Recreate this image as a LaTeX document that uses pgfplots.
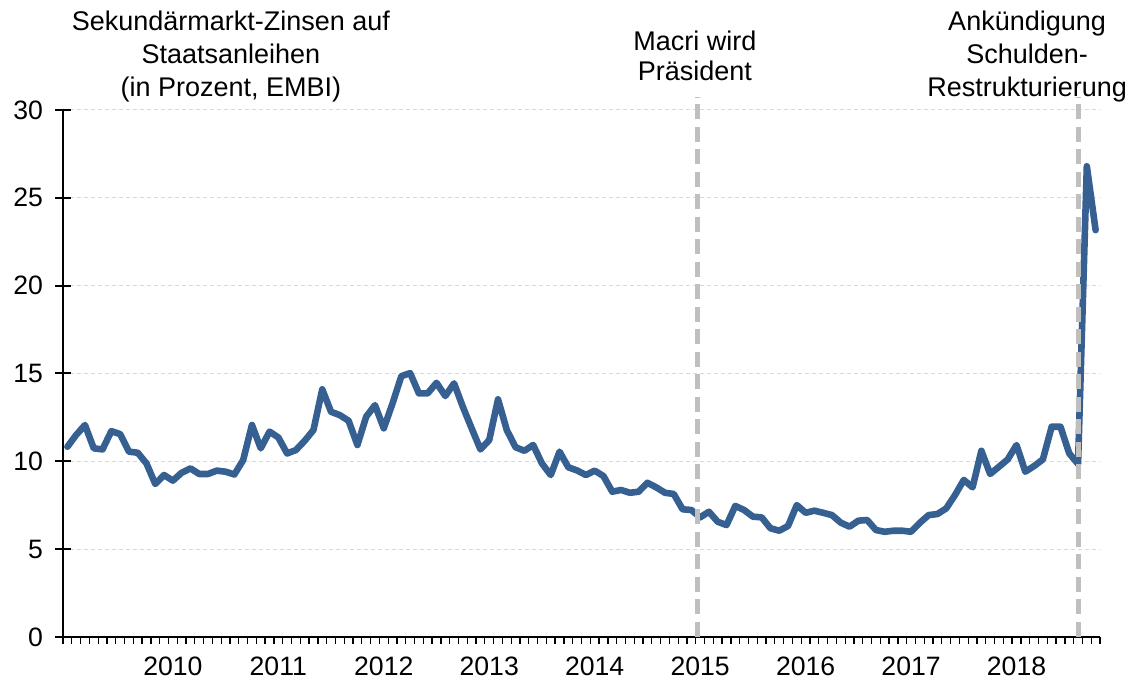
\documentclass[border=0pt]{standalone}
\usepackage{pgfplots}
\pgfplotsset{compat=1.18}
\usepackage{fontspec}
\setmainfont{Liberation Sans}
\definecolor{lineblue}{RGB}{54,96,145}
\definecolor{vgray}{RGB}{191,191,191}
\definecolor{gridgray}{RGB}{217,217,217}
\pgfplotstableread{
k v
0 10.83
1 11.5
2 12.07
3 10.74
4 10.68
5 11.72
6 11.55
7 10.55
8 10.49
9 9.88
10 8.71
11 9.22
12 8.9
13 9.35
14 9.6
15 9.28
16 9.28
17 9.47
18 9.41
19 9.25
20 10.07
21 12.07
22 10.74
23 11.69
24 11.36
25 10.45
26 10.64
27 11.17
28 11.78
29 14.1
30 12.82
31 12.63
32 12.31
33 10.93
34 12.54
35 13.2
36 11.88
37 13.3
38 14.85
39 15.02
40 13.87
41 13.87
42 14.47
43 13.72
44 14.44
45 13.1
46 11.88
47 10.68
48 11.21
49 13.53
50 11.78
51 10.8
52 10.6
53 10.93
54 9.88
55 9.22
56 10.55
57 9.66
58 9.48
59 9.22
60 9.47
61 9.16
62 8.27
63 8.37
64 8.21
65 8.27
66 8.78
67 8.52
68 8.21
69 8.14
70 7.27
71 7.23
72 6.81
73 7.13
74 6.56
75 6.37
76 7.46
77 7.23
78 6.85
79 6.81
80 6.19
81 6.05
82 6.32
83 7.51
84 7.07
85 7.19
86 7.07
87 6.94
88 6.51
89 6.28
90 6.62
91 6.66
92 6.09
93 5.99
94 6.05
95 6.05
96 5.99
97 6.5
98 6.94
99 7.0
100 7.32
101 8.08
102 8.94
103 8.52
104 10.6
105 9.28
106 9.69
107 10.11
108 10.93
109 9.41
110 9.73
111 10.11
112 11.97
113 11.97
114 10.45
115 9.85
116 26.8
117 23.16
}\datatable
\begin{document}
\begin{tikzpicture}
\useasboundingbox (-31.5pt,-21.5pt) rectangle (534pt,318.5pt);
\begin{axis}[
  at={(0,0)}, anchor=south west,
  scale only axis,
  width=518.5pt, height=263.5pt,
  xmin=-0.5, xmax=117.5,
  ymin=0, ymax=30,
  axis x line*=bottom, axis y line*=left,
  axis line style={-, line width=1pt, black},
  xtick={12,24,...,108},
  xticklabels={2010,2011,2012,2013,2014,2015,2016,2017,2018},
  minor xtick={-0.5,0.5,...,117.5},
  ytick={0,5,...,30},
  tick align=outside,
  major tick length=8pt,
  minor tick length=3.3pt,
  major x tick style={draw=none},
  minor x tick style={line width=0.65pt, black},
  major y tick style={xshift=4pt, line width=1pt, black},
  ymajorgrids,
  major grid style={draw=gridgray, dash pattern=on 2pt off 1.5pt, line width=0.5pt},
  tick label style={font=\fontsize{13.3}{15}\selectfont},
  xticklabel style={yshift=1.5pt},
  yticklabel style={xshift=1.5pt},
  /pgf/number format/assume math mode=true,
  clip=false,
]
\addplot[lineblue, line width=3.3pt, line join=round, line cap=round] table[x=k, y=v] {\datatable};
\draw[vgray, line width=2.5pt, dash pattern=on 7.5pt off 3.75pt] (axis cs:71.7,0) -- (axis cs:71.7,30.75);
\draw[vgray, line width=2.5pt, dash pattern=on 7.5pt off 3.75pt] (axis cs:115.1,0) -- (axis cs:115.1,30.75);
\tikzset{tl/.style={anchor=base, font=\fontsize{13.5}{15}\selectfont}}
\node[tl] at (axis cs:18.6,34.52) {Sekundärmarkt-Zinsen auf};
\node[tl] at (axis cs:18.6,32.64) {Staatsanleihen};
\node[tl] at (axis cs:18.6,30.76) {(in Prozent, EMBI)};
\node[tl] at (axis cs:71.4,33.38) {Macri wird};
\node[tl] at (axis cs:71.4,31.67) {Präsident};
\node[tl] at (axis cs:109.2,34.52) {Ankündigung};
\node[tl] at (axis cs:109.2,32.64) {Schulden-};
\node[tl] at (axis cs:109.2,30.76) {Restrukturierung};
\end{axis}
\end{tikzpicture}
\end{document}
